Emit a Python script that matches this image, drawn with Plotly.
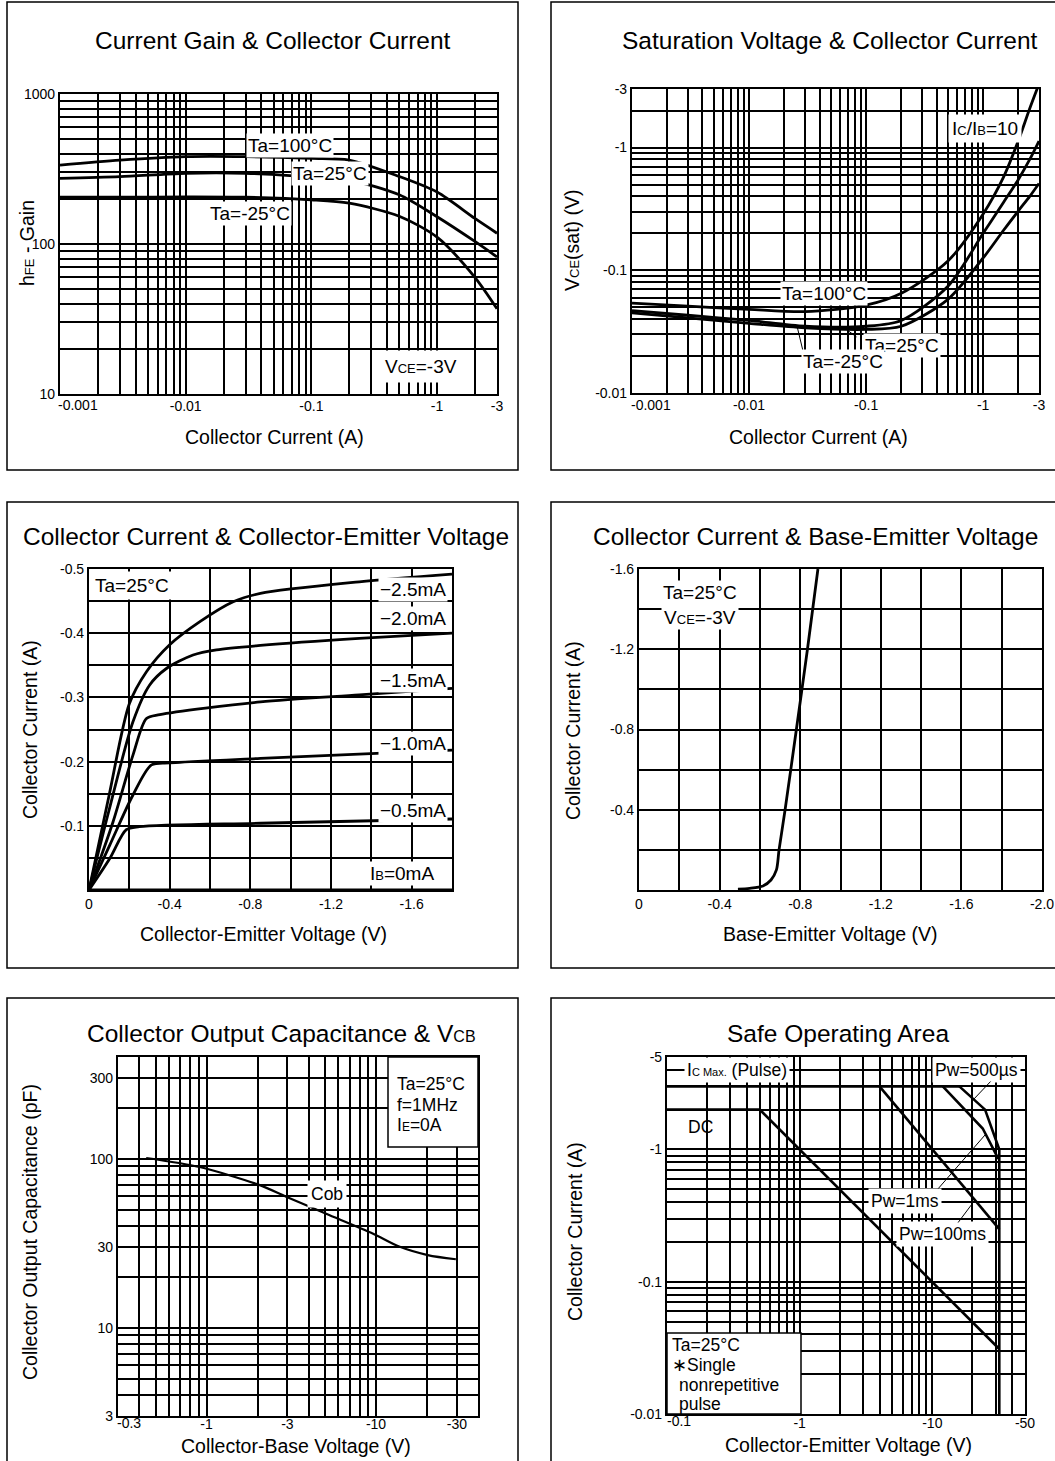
import numpy as np
import plotly.graph_objects as go

W, H = 1055, 1461
FONT = "Liberation Sans, Arial, sans-serif"

# ---------------- DATA ----------------
# Panel 1: hFE vs collector current (VCE=-3V)
gain_ic = [-0.001, -0.003, -0.01, -0.03, -0.1, -0.2, -0.5, -1, -2, -3]
gain_100 = [336, 362, 382, 382, 372, 363, 282, 222, 148, 118]
gain_25 = [274, 281, 296, 296, 280, 267, 213, 152, 104, 82]
gain_m25 = [205, 205, 206, 205, 197, 187, 153, 111, 60, 37]

# Panel 2: VCE(sat) vs collector current (IC/IB=10)
sat_ic = [-0.001, -0.003, -0.01, -0.03, -0.1, -0.2, -0.5, -1, -1.5, -2, -2.5, -3]
sat_100 = [-0.054, -0.051, -0.048, -0.046, -0.052, -0.065, -0.119, -0.288, -0.58, -1.14, -2.08, -3.3]
sat_25 = [-0.047, -0.043, -0.039, -0.035, -0.035, -0.039, -0.074, -0.2, -0.36, -0.55, -0.8, -1.13]
sat_m25 = [-0.045, -0.041, -0.037, -0.034, -0.033, -0.035, -0.058, -0.126, -0.213, -0.305, -0.4, -0.51]

# Panel 3: IC vs VCE, for several IB
vce_25 = [0, -0.1, -0.2, -0.285, -0.4, -0.55, -0.715, -0.85, -1.34, -1.8]
ic_25 = [0, -0.148, -0.29, -0.34, -0.382, -0.418, -0.449, -0.462, -0.48, -0.492]
vce_20 = [0, -0.1, -0.218, -0.3, -0.384, -0.516, -0.632, -0.85, -1.34, -1.8]
ic_20 = [0, -0.125, -0.262, -0.319, -0.345, -0.366, -0.374, -0.381, -0.392, -0.40]
vce_15 = [0, -0.119, -0.218, -0.285, -0.351, -0.85, -1.34, -1.8]
ic_15 = [0, -0.106, -0.21, -0.267, -0.273, -0.293, -0.304, -0.314]
vce_10 = [0, -0.103, -0.218, -0.31, -0.4, -0.85, -1.8]
ic_10 = [0, -0.07, -0.148, -0.195, -0.198, -0.205, -0.218]
vce_05 = [0, -0.103, -0.185, -0.25, -0.85, -1.8]
ic_05 = [0, -0.049, -0.094, -0.0986, -0.104, -0.1106]
vce_00 = [0, -1.8]
ic_00 = [0, 0]

# Panel 4: IC vs VBE
vbe = [-0.491, -0.549, -0.615, -0.655, -0.682, -0.695, -0.725, -0.781, -0.836, -0.888]
ic_vbe = [-0.004, -0.008, -0.02, -0.05, -0.1, -0.2, -0.4, -0.8, -1.2, -1.6]

# Panel 5: Cob vs VCB
vcb = [-0.44, -0.91, -2.06, -2.95, -5.08, -9.55, -13.7, -20.2, -29.6]
cob = [101, 89.3, 69.8, 59.6, 47.2, 36.1, 30.2, 26.9, 25.4]

# Panel 6: Safe operating area
soa_top_v = [-0.1, -16]
soa_top_i = [-3, -3]
soa_500us_v = [-16, -25, -32]
soa_500us_i = [-3, -2, -1.0]
soa_1ms_v = [-12, -24, -31.5]
soa_1ms_i = [-3, -1.44, -0.85]
soa_100ms_v = [-4, -32]
soa_100ms_i = [-3, -0.25]
soa_dc_v = [-0.1, -0.5, -32]
soa_dc_i = [-2, -2, -0.031]
soa_vceo_v = [-32, -32]
soa_vceo_i = [-1.0, -0.01]

# Tick labels
p1_xlabels = {0.001: "-0.001", 0.01: "-0.01", 0.1: "-0.1", 1: "-1", 3: "-3"}
p1_ylabels = {10: "10", 100: "100", 1000: "1000"}
p2_xlabels = {0.001: "-0.001", 0.01: "-0.01", 0.1: "-0.1", 1: "-1", 3: "-3"}
p2_ylabels = {0.01: "-0.01", 0.1: "-0.1", 1: "-1", 3: "-3"}
p3_xlabels = {0: "0", -0.4: "-0.4", -0.8: "-0.8", -1.2: "-1.2", -1.6: "-1.6"}
p3_ylabels = {-0.1: "-0.1", -0.2: "-0.2", -0.3: "-0.3", -0.4: "-0.4", -0.5: "-0.5"}
p4_xlabels = {0: "0", -0.4: "-0.4", -0.8: "-0.8", -1.2: "-1.2", -1.6: "-1.6", -2.0: "-2.0"}
p4_ylabels = {-0.4: "-0.4", -0.8: "-0.8", -1.2: "-1.2", -1.6: "-1.6"}
p5_xlabels = {0.3: "-0.3", 1: "-1", 3: "-3", 10: "-10", 30: "-30"}
p5_ylabels = {3: "3", 10: "10", 30: "30", 100: "100", 300: "300"}
p6_xlabels = {0.1: "-0.1", 1: "-1", 10: "-10", 50: "-50"}
p6_ylabels = {0.01: "-0.01", 0.1: "-0.1", 1: "-1", 5: "-5"}


# ---------------- HELPERS ----------------
def log_grid(lo, hi):
    vals = []
    for e in range(int(np.floor(np.log10(lo))) - 1, int(np.ceil(np.log10(hi))) + 1):
        for m in range(1, 10):
            v = m * 10.0 ** e
            if lo * 0.9999 <= v <= hi * 1.0001:
                vals.append(v)
    return vals


def lin_grid(lo, hi, step):
    n = int(round(abs(hi - lo) / step))
    return [round(lo + np.sign(hi - lo) * step * k, 4) for k in range(n + 1)]


def texts(vals, labels, skip=None):
    out = []
    for v in vals:
        t = ""
        for k, s in labels.items():
            if skip is not None and k == skip:
                continue
            if abs(v - k) <= 1e-6 * max(1e-9, abs(k)) or (k == 0 and abs(v) < 1e-9):
                t = s
        out.append(t)
    return out


def px(x):
    return x / W


def py(y):
    return 1 - y / H


def axis(dom, anchor, typ, rng, vals, labels, standoff=0, skip=None):
    return dict(domain=dom, anchor=anchor, type=typ, range=rng, automargin=False,
                tickmode="array", tickvals=vals, ticktext=texts(vals, labels, skip),
                showgrid=True, gridcolor="black", gridwidth=1.5,
                showline=True, linecolor="black", linewidth=2.2, mirror=True,
                ticks="", zeroline=False, fixedrange=True, ticklabelstandoff=standoff,
                tickfont=dict(family=FONT, size=14, color="black"))


fig = go.Figure()


def curve(n, x, y, width=2.8, shape="spline"):
    fig.add_trace(go.Scatter(x=x, y=y, xaxis="x" + (str(n) if n > 1 else ""),
                             yaxis="y" + (str(n) if n > 1 else ""), mode="lines",
                             line=dict(color="black", width=width, shape=shape, smoothing=0.8),
                             showlegend=False, hoverinfo="skip"))


A = np.abs
# panel 1
curve(1, A(gain_ic), gain_100)
curve(1, A(gain_ic), gain_25)
curve(1, A(gain_ic), gain_m25)
# panel 2
curve(2, A(sat_ic), A(sat_100))
curve(2, A(sat_ic), A(sat_25))
curve(2, A(sat_ic), A(sat_m25))
# panel 3
for vx, iy in [(vce_25, ic_25), (vce_20, ic_20), (vce_15, ic_15), (vce_10, ic_10), (vce_05, ic_05), (vce_00, ic_00)]:
    curve(3, vx, iy, shape="spline")
# panel 4
curve(4, vbe, ic_vbe)
# panel 5
curve(5, A(vcb), cob, width=2.2)
# panel 6
for vx, iy in [(soa_top_v, soa_top_i), (soa_500us_v, soa_500us_i), (soa_1ms_v, soa_1ms_i),
               (soa_100ms_v, soa_100ms_i), (soa_dc_v, soa_dc_i), (soa_vceo_v, soa_vceo_i)]:
    curve(6, A(vx), A(iy), width=2.6, shape="linear")

# ---------------- AXES ----------------
L = np.log10
e = 1e-6
lay = {}
lay["xaxis"] = axis([px(60), px(497)], "y", "log", [L(0.001) - e, L(3) + e], log_grid(0.001, 3), p1_xlabels, -2, skip=0.001)
lay["yaxis"] = axis([py(394), py(94)], "x", "log", [1 - e, 3 + e], log_grid(10, 1000), p1_ylabels)
lay["xaxis2"] = axis([px(632), px(1039)], "y2", "log", [L(0.001) - e, L(3) + e], log_grid(0.001, 3), p2_xlabels, -2, skip=0.001)
lay["yaxis2"] = axis([py(393), py(89)], "x2", "log", [-2 - e, L(3) + e], log_grid(0.01, 3), p2_ylabels)
lay["xaxis3"] = axis([px(89), px(452)], "y3", "linear", [0, -1.8], lin_grid(0, -1.8, 0.2), p3_xlabels)
lay["yaxis3"] = axis([py(890), py(569)], "x3", "linear", [0, -0.5], lin_grid(0, -0.5, 0.05), p3_ylabels)
lay["xaxis4"] = axis([px(639), px(1042)], "y4", "linear", [0, -2.0], lin_grid(0, -2.0, 0.2), p4_xlabels)
lay["yaxis4"] = axis([py(890), py(569)], "x4", "linear", [0, -1.6], lin_grid(0, -1.6, 0.2), p4_ylabels)
lay["xaxis5"] = axis([px(118), px(478)], "y5", "log", [L(0.3) - e, L(40)], log_grid(0.3, 40), p5_xlabels, -6, skip=0.3)
lay["yaxis5"] = axis([py(1416), py(1057)], "x5", "log", [L(3) - e, L(400)], log_grid(3, 400), p5_ylabels)
lay["xaxis6"] = axis([px(667), px(1025)], "y6", "log", [-1 - e, L(50) + e], log_grid(0.1, 50), p6_xlabels, -5, skip=0.1)
lay["yaxis6"] = axis([py(1414), py(1057)], "x6", "log", [-2 - e, L(5) + e], log_grid(0.01, 5), p6_ylabels)

# ---------------- TEXT ----------------
ann = []


def text(x, y, s, size=16, bg=None, xanchor="center", angle=0, pad=1, align="center"):
    d = dict(x=px(x), y=py(y), xref="paper", yref="paper", text=s, showarrow=False,
             font=dict(family=FONT, size=size, color="black"), xanchor=xanchor, yanchor="middle",
             textangle=angle, align=align, borderpad=pad)
    if bg:
        d["bgcolor"] = bg
    ann.append(d)


def pointer(x0, y0, x1, y1):
    ann.append(dict(x=px(x1), y=py(y1), xref="paper", yref="paper", text="", showarrow=True,
                    arrowhead=0, arrowwidth=1, arrowcolor="black", ax=x0 - x1, ay=y0 - y1,
                    axref="pixel", ayref="pixel", standoff=0, startstandoff=0))


def sm(s, size=12):
    return "<span style='font-size:%dpx'>%s</span>" % (size, s)


# corner tick labels, nudged right (as in the original) so they clear the y labels
text(78, 405, p1_xlabels[0.001], 14)
text(651, 405, p2_xlabels[0.001], 14)
text(129, 1423, p5_xlabels[0.3], 14)
text(679, 1421, p6_xlabels[0.1], 14)

TS = 24.5
AS = 19.5
LS = 19
SS = 17.5
# titles
text(273, 41, "Current Gain & Collector Current", TS)
text(830, 41, "Saturation Voltage & Collector Current", TS)
text(266, 537, "Collector Current & Collector-Emitter Voltage", TS)
text(815, 537, "Collector Current & Base-Emitter Voltage", TS)
text(281, 1033, "Collector Output Capacitance & V" + sm("CB", 16), TS)
text(838, 1033, "Safe Operating Area", TS)
# axis titles
text(274, 437, "Collector Current (A)", AS)
text(818, 437, "Collector Current (A)", AS)
text(263, 934, "Collector-Emitter Voltage (V)", AS)
text(830, 934, "Base-Emitter Voltage (V)", AS)
text(296, 1446, "Collector-Base Voltage (V)", AS)
text(848, 1445, "Collector-Emitter Voltage (V)", AS)
text(27, 243, "h" + sm("FE", 13) + " - Gain", AS, angle=-90)
text(572, 240, "V" + sm("CE", 13) + "(sat) (V)", AS, angle=-90)
text(30, 730, "Collector Current (A)", AS, angle=-90)
text(573, 730, "Collector Current (A)", AS, angle=-90)
text(30, 1232, "Collector Output Capacitance (pF)", AS, angle=-90)
text(575, 1232, "Collector Current (A)", AS, angle=-90)

# panel 1 labels
text(290, 145, "Ta=100°C", LS, bg="white")
text(330, 173, "Ta=25°C", LS, bg="white")
text(250, 213, "Ta=-25°C", LS, bg="white")
text(421, 366, "V" + sm("CE", 13) + "=-3V", LS, bg="white", pad=5)
# panel 2 labels
text(985, 128, "I" + sm("C", 13) + "/I" + sm("B", 13) + "=10", LS, bg="white", pad=3)
text(824, 293, "Ta=100°C", LS, bg="white")
text(902, 345, "Ta=25°C", LS, bg="white")
text(843, 362, "Ta=-25°C", LS, bg="white")
pointer(858, 338, 843, 327)
pointer(803, 351, 797, 326)
# panel 3 labels
text(132, 585, "Ta=25°C", LS, bg="white", pad=3)
text(413, 590, "−2.5mA", LS, bg="white")
text(413, 619, "−2.0mA", LS, bg="white")
text(413, 680, "−1.5mA", LS, bg="white")
text(413, 743, "−1.0mA", LS, bg="white")
text(413, 810, "−0.5mA", LS, bg="white")
text(402, 873, "I" + sm("B", 13) + "=0mA", LS, bg="white")
# panel 4 labels
text(700, 605, "Ta=25°C<br>V" + sm("CE", 13) + "=-3V", LS, bg="white")
# panel 5 labels
text(327, 1194, "Cob", SS, bg="white", pad=3)
text(395, 1084, "Ta=25°C", SS, xanchor="left")
text(395, 1105, "f=1MHz", SS, xanchor="left")
text(395, 1125, "I" + sm("E", 12) + "=0A", SS, xanchor="left")
# panel 6 labels
text(737, 1070, "I" + sm("C Max.", 11) + " (Pulse)", SS, bg="white", pad=2)
text(976, 1070, "Pw=500µs", SS, bg="white", pad=2)
text(905, 1201, "Pw=1ms", SS, bg="white", pad=2)
text(942, 1234, "Pw=100ms", SS, bg="white", pad=2)
text(700, 1127, "DC", SS)
pointer(992, 1080, 973, 1100)
pointer(937, 1190, 985, 1135)
pointer(957, 1224, 975, 1200)
text(670, 1345, "Ta=25°C", SS, xanchor="left")
text(670, 1365, "∗Single", SS, xanchor="left")
text(677, 1385, "nonrepetitive", SS, xanchor="left")
text(677, 1404, "pulse", SS, xanchor="left")

shapes = []
# outer panel frames
for (x0, y0, x1, y1) in [(7, 2, 518, 470), (551, 2, 1060, 470), (7, 502, 518, 968),
                         (551, 502, 1060, 968), (7, 998, 518, 1466), (551, 998, 1060, 1466)]:
    shapes.append(dict(type="rect", xref="paper", yref="paper", x0=px(x0), x1=px(x1),
                       y0=py(y1), y1=py(y0), line=dict(color="black", width=1.5), layer="below"))
# legend boxes
shapes.append(dict(type="rect", xref="paper", yref="paper", x0=px(388), x1=px(478), y0=py(1147), y1=py(1057),
                   fillcolor="white", line=dict(color="black", width=1.5), layer="above"))
shapes.append(dict(type="rect", xref="paper", yref="paper", x0=px(667), x1=px(801), y0=py(1414), y1=py(1333),
                   fillcolor="white", line=dict(color="black", width=1.5), layer="above"))

fig.update_layout(template="none", width=W, height=H, margin=dict(l=0, r=0, t=0, b=0, pad=0),
                  paper_bgcolor="white", plot_bgcolor="white", showlegend=False,
                  annotations=ann, shapes=shapes, **lay)

fig.write_html("out.html", config={"displayModeBar": False},
               post_script="document.body.style.margin='0px';document.body.style.overflow='hidden';")
